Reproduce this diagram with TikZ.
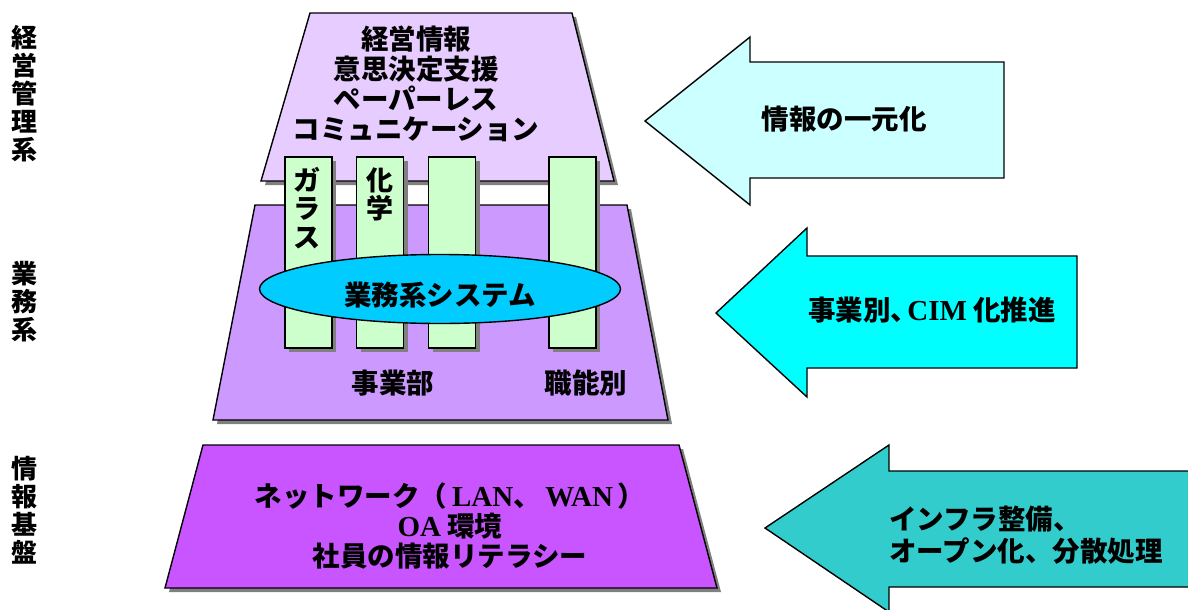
\documentclass[tikz,border=0pt]{standalone}
\usepackage{fontspec}
\usetikzlibrary{shapes.geometric,shadows}
\newfontfamily\jp{Noto Sans CJK JP}
\newfontfamily\lat{Liberation Serif}
\newcommand\latb[1]{{\lat\bfseries\fontsize{29}{30}\selectfont #1}}
\definecolor{toptrap}{HTML}{E6CCFF}
\definecolor{midtrap}{HTML}{CC99FF}
\definecolor{bottrap}{HTML}{C855FF}
\definecolor{pillargreen}{HTML}{CCFFCC}
\definecolor{sysblue}{HTML}{00CCFF}
\definecolor{arrowA}{HTML}{CCFFFF}
\definecolor{arrowB}{HTML}{00FFFF}
\definecolor{arrowC}{HTML}{33CCCC}
\definecolor{shadowgray}{HTML}{808080}
\begin{document}
\begin{tikzpicture}[x=1pt,y=-1pt,
  jt/.style={font=\jp\bfseries\fontsize{27.5}{30}\selectfont, inner sep=0pt, align=center},
  vt/.style={font=\jp\bfseries\fontsize{26}{28}\selectfont, inner sep=0pt, align=center, text width=27pt},
  outl/.style={draw=black, line width=1.4pt},
  shad/.style={drop shadow={shadow xshift=4pt, shadow yshift=-4pt, fill=shadowgray, opacity=1}},
  pillar/.style={draw=black, line width=1.4pt, fill=pillargreen, minimum width=47, minimum height=191, inner sep=0pt, shad},
]
\clip (0,0) rectangle (1188,610);
\fill[white] (0,0) rectangle (1188,610);

% left layer labels
\node[vt] (labA) at (25,94) {経\\営\\管\\理\\系};
\node[vt] (labB) at (25,302) {業\\務\\系};
\node[vt] (labC) at (25,510) {情\\報\\基\\盤};

% trapezoids
\path[outl, fill=toptrap, shad] (310,13) -- (572,13) -- (614,181) -- (261,181) -- cycle;
\path[outl, fill=midtrap, shad] (255,205) -- (627,205) -- (668,420) -- (213,420) -- cycle;
\path[outl, fill=bottrap, shad] (203,445) -- (679,445) -- (717,588) -- (165,588) -- cycle;

% top text
\node[jt] (topt) at (416,84) {経営情報\\意思決定支援\\ペーパーレス\\コミュニケーション};

% pillars
\node[pillar] (p1) at (308.5,252.5) {};
\node[pillar] (p2) at (380,252.5) {};
\node[pillar] (p3) at (452,252.5) {};
\node[pillar] (p4) at (572.5,252.5) {};
\node[vt, anchor=north, font=\jp\bfseries\fontsize{27}{28.5}\selectfont] (p1t) at (307,167) {ガ\\ラ\\ス};
\node[vt, anchor=north, font=\jp\bfseries\fontsize{27}{28}\selectfont] (p2t) at (380,168) {化\\学};

% ellipse
\node[ellipse, draw=black, line width=1.4pt, fill=sysblue, minimum width=361, minimum height=69, inner sep=0pt] (sys) at (440,289) {};
\node[jt] (syst) at (440,295) {業務系システム};

\node[jt] (jigyo) at (393,383) {事業部};
\node[jt] (shoku) at (586,383) {職能別};

% bottom text
\node[jt] (bott) at (450,526) {ネットワーク（\,\latb{LAN}、\,\latb{WAN}\,）\\\latb{OA} 環境\\社員の情報リテラシー};

% block arrows
\path[outl, fill=arrowA] (645,121) -- (750,37) -- (750,62) -- (1004,62) -- (1004,178) -- (750,178) -- (750,205) -- cycle;
\path[outl, fill=arrowB] (716,313) -- (807,228) -- (807,256) -- (1077,256) -- (1077,368) -- (807,368) -- (807,397) -- cycle;
\path[outl, fill=arrowC] (765,528) -- (889,445) -- (889,471) -- (1200,471) -- (1200,587) -- (889,587) -- (889,612) -- cycle;

\node[jt] (a1t) at (844,119) {情報の一元化};
\node[jt] (a2t) at (932,310) {事業別、\kern-11pt\latb{CIM} 化推進};
\node[jt, align=left, anchor=west, font=\jp\bfseries\fontsize{27.5}{32}\selectfont] (a3t) at (889,535) {インフラ整備、\\オープン化、分散処理};
\end{tikzpicture}
\end{document}
